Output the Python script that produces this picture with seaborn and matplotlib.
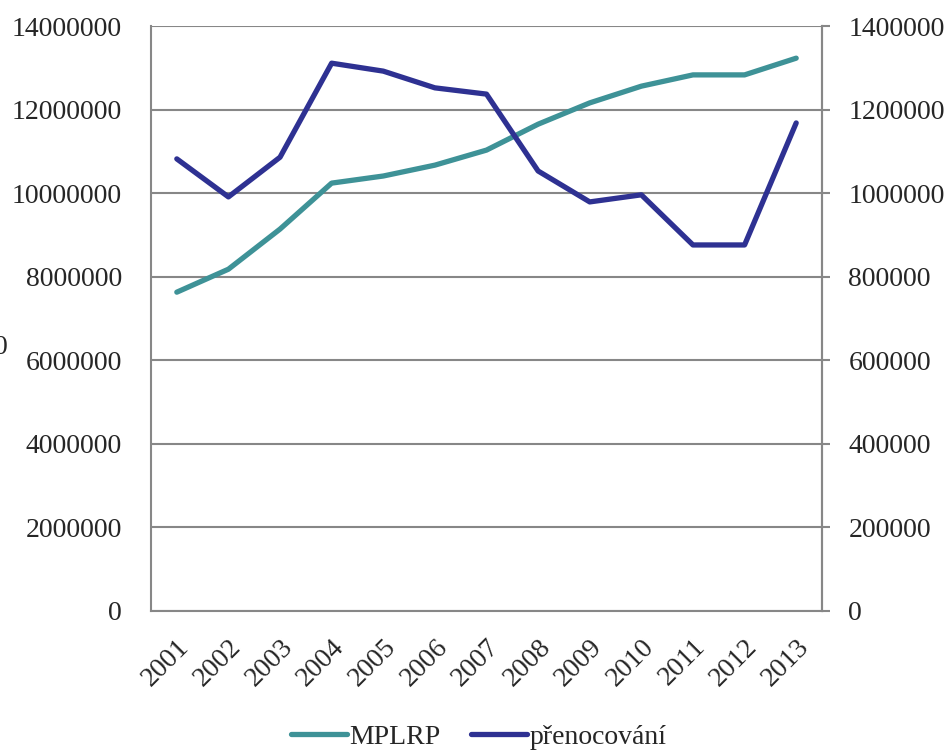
import numpy as np
import pandas as pd
import matplotlib
matplotlib.use("Agg")
import matplotlib.pyplot as plt
import matplotlib.transforms as mtransforms
import seaborn as sns

years = [2001, 2002, 2003, 2004, 2005, 2006, 2007, 2008, 2009, 2010, 2011, 2012, 2013]
mplrp = [7630000, 8180000, 9140000, 10240000, 10410000, 10670000, 11030000,
         11650000, 12160000, 12560000, 12830000, 12830000, 13230000]
prenocovani = [1082000, 991000, 1086000, 1311000, 1292000, 1252000, 1237000,
               1053000, 979000, 996000, 876000, 876000, 1168000]

left_ticks = [0, 2000000, 4000000, 6000000, 8000000, 10000000, 12000000, 14000000]
right_ticks = [0, 200000, 400000, 600000, 800000, 1000000, 1200000, 1400000]

df = pd.DataFrame({"rok": years, "MPLRP": mplrp, "přenocování": prenocovani})

sns.set_style("white")
plt.rcParams['font.family'] = ['Liberation Serif', 'DejaVu Serif']

teal = "#3E9297"
navy = "#2E3192"
grey = "#878787"
fs = 20

fig = plt.figure(figsize=(9.46, 7.5), dpi=100)
ax = fig.add_axes([151/946, 1 - 611/750, (822 - 151)/946, (611 - 26)/750])
ax2 = ax.twinx()

sns.lineplot(data=df, x="rok", y="MPLRP", ax=ax, color=teal, linewidth=3.8,
             label="MPLRP", legend=False)
sns.lineplot(data=df, x="rok", y="přenocování", ax=ax2, color=navy, linewidth=3.8,
             label="přenocování", legend=False)

ax.set_xlim(years[0] - 0.5, years[-1] + 0.5)
ax.set_ylim(0, 14000000)
ax2.set_ylim(0, 1400000)
ax.set_yticks(left_ticks)
ax2.set_yticks(right_ticks)
ax.set_yticklabels([str(t) for t in left_ticks], fontsize=fs)
ax2.set_yticklabels([str(t) for t in right_ticks], fontsize=fs)
ax.set_xticks(years)
ax.set_xticklabels([str(y) for y in years], fontsize=fs, rotation=45,
                   ha="right", rotation_mode="anchor")
ax.set_xlabel("")
ax.set_ylabel("")
ax2.set_ylabel("")

# posunout popisky let trochu doleva
shift = mtransforms.ScaledTranslation(-6/100, 0, fig.dpi_scale_trans)
for lab in ax.get_xticklabels():
    lab.set_transform(lab.get_transform() + shift)

ax.grid(axis="y", color=grey, linewidth=1.5)
ax.set_axisbelow(True)
ax.tick_params(axis="y", length=0, pad=21)
ax.tick_params(axis="x", length=0, pad=17)
ax2.tick_params(axis="y", length=6, width=1.5, color=grey, pad=13, direction="out")

for a in (ax, ax2):
    a.spines["top"].set_visible(False)
    for s in ("left", "right", "bottom"):
        a.spines[s].set_color(grey)
        a.spines[s].set_linewidth(1.5)
ax2.spines["left"].set_visible(False)
ax2.spines["bottom"].set_visible(False)

h1, l1 = ax.get_legend_handles_labels()
h2, l2 = ax2.get_legend_handles_labels()
fig.legend(h1 + h2, l1 + l2, loc="center", bbox_to_anchor=(479/946, 1 - 737/750),
           ncol=2, frameon=False, fontsize=fs, handlelength=2.0,
           handletextpad=0.1, columnspacing=1.1)

fig.text(-6/946, 1 - 348/750, "0", fontsize=fs, ha="left", va="center")

fig.savefig("out.png", dpi=100)
